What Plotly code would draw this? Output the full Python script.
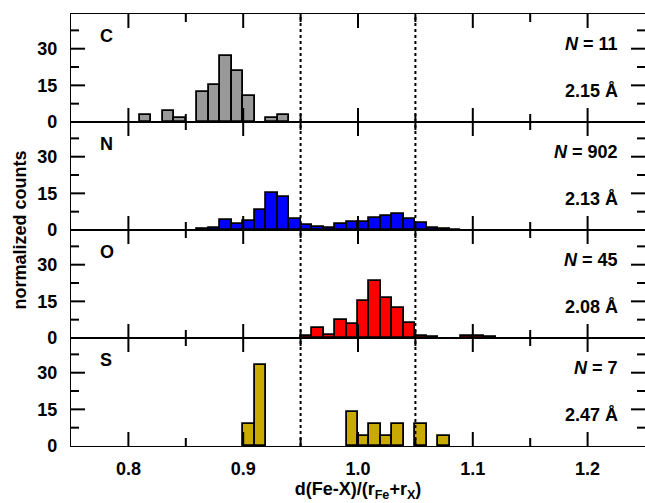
import plotly.graph_objects as go
from plotly.subplots import make_subplots

# bin left edges (width 0.01) and normalized counts
c_bins = [0.81, 0.83, 0.84, 0.86, 0.87, 0.88, 0.89, 0.90, 0.92, 0.93]
c_vals = [2.8, 4.6, 1.5, 12.3, 15.0, 27.1, 20.8, 10.5, 1.5, 2.8]

n_bins = [0.86, 0.87, 0.88, 0.89, 0.90, 0.91, 0.92, 0.93, 0.94, 0.95, 0.96, 0.97, 0.98, 0.99,
          1.00, 1.01, 1.02, 1.03, 1.04, 1.05, 1.06, 1.07, 1.08]
n_vals = [0.3, 0.8, 4.1, 2.5, 3.8, 8.2, 15.0, 13.6, 4.4, 2.0, 1.4, 0.8, 2.5, 3.1,
          3.3, 4.9, 5.7, 6.6, 4.4, 2.7, 0.8, 0.4, 0.2]

o_bins = [0.95, 0.96, 0.97, 0.98, 0.99, 1.00, 1.01, 1.02, 1.03, 1.04, 1.05, 1.06, 1.09, 1.10, 1.11]
o_vals = [0.7, 4.1, 1.1, 7.5, 5.6, 15.0, 23.2, 16.4, 12.4, 6.1, 0.9, 0.4, 0.9, 0.9, 0.3]

s_bins = [0.90, 0.91, 0.99, 1.00, 1.01, 1.02, 1.03, 1.05, 1.07]
s_vals = [9.2, 33.3, 13.9, 4.2, 9.2, 4.2, 9.2, 9.2, 4.2]

elements = ["C", "N", "O", "S"]
n_labels = ["11", "902", "45", "7"]
dist_labels = ["2.15 Å", "2.13 Å", "2.08 Å", "2.47 Å"]
colors = ["#999999", "#0000ff", "#ff0000", "#c8aa00"]
series = [(c_bins, c_vals), (n_bins, n_vals), (o_bins, o_vals), (s_bins, s_vals)]

x_major = [0.8, 0.9, 1.0, 1.1, 1.2]
x_minor = [0.85, 0.95, 1.05, 1.15]
y_major = [15, 30]
y_minor = [7.5, 22.5, 37.5]
ref_lines = [0.95, 1.05]

fig = make_subplots(rows=4, cols=1, shared_xaxes=True, vertical_spacing=0)

FONT = "Liberation Sans, Arial, sans-serif"
BOLD = dict(size=18, family=FONT, weight="bold", color="black")
TICK = dict(color="black", width=2)

PW, PH = 574.0, 108.0  # plot width, panel height in px
MAJ, MIN = 14.0, 8.0

for i, (bins, vals) in enumerate(series):
    r = i + 1
    sfx = "" if r == 1 else str(r)
    xr, yr = "x" + sfx, "y" + sfx
    xd, yd = xr + " domain", yr + " domain"
    fig.add_trace(go.Bar(x=bins, y=vals, width=0.01, offset=0,
                         marker=dict(color=colors[i], line=dict(color="black", width=1.8)),
                         showlegend=False), row=r, col=1)
    for xv in ref_lines:
        fig.add_shape(type="line", x0=xv, x1=xv, y0=0, y1=1, xref=xr, yref=yd,
                      line=dict(color="black", width=2, dash="dot"))
    # inward axis ticks on all four sides
    for ticks, ln in ((x_major, MAJ), (x_minor, MIN)):
        for xv in ticks:
            fig.add_shape(type="line", x0=xv, x1=xv, y0=0, y1=ln / PH, xref=xr, yref=yd, line=TICK)
            fig.add_shape(type="line", x0=xv, x1=xv, y0=1 - ln / PH, y1=1, xref=xr, yref=yd, line=TICK)
    for ticks, ln in ((y_major, MAJ), (y_minor, MIN)):
        for yv in ticks:
            fig.add_shape(type="line", x0=0, x1=ln / PW, y0=yv, y1=yv, xref=xd, yref=yr, line=TICK)
            fig.add_shape(type="line", x0=1 - ln / PW, x1=1, y0=yv, y1=yv, xref=xd, yref=yr, line=TICK)
    fig.add_annotation(text=elements[i], x=0.047, y=0.80, xref=xd, yref=yd,
                       xanchor="left", yanchor="middle", showarrow=False, font=BOLD)
    fig.add_annotation(text=f"<i>N</i> = {n_labels[i]}", x=0.956, y=0.725, xref=xd, yref=yd,
                       xanchor="right", yanchor="middle", showarrow=False, font=BOLD)
    fig.add_annotation(text=dist_labels[i], x=0.956, y=0.285, xref=xd, yref=yd,
                       xanchor="right", yanchor="middle", showarrow=False, font=BOLD)
    fig.update_yaxes(row=r, col=1, range=[0, 44.2], tickmode="linear", tick0=0, dtick=15,
                     ticks="", showline=True, linecolor="black", linewidth=1.2, mirror=True,
                     showgrid=False, zeroline=False, automargin=False,
                     ticklabelstandoff=9, tickfont=BOLD)
    fig.update_xaxes(row=r, col=1, range=[0.75, 1.25], tickmode="linear", tick0=0.8, dtick=0.1,
                     ticks="", showline=True, linecolor="black", linewidth=1.2, mirror=True,
                     showgrid=False, zeroline=False, showticklabels=(r == 4),
                     tickformat=".1f", automargin=False, ticklabelstandoff=6,
                     tickfont=BOLD)

fig.update_xaxes(row=4, col=1,
                 title=dict(text="d(Fe-X)/(r<sub>Fe</sub>+r<sub>X</sub>)", standoff=4, font=BOLD))

fig.add_annotation(text="normalized counts", x=-0.088, y=0.5, xref="paper", yref="paper",
                   textangle=-90, showarrow=False, xanchor="center", yanchor="middle",
                   font=BOLD)

fig.update_layout(width=645, height=503, margin=dict(l=71, r=0, t=14, b=57),
                  plot_bgcolor="white", paper_bgcolor="white", bargap=0,
                  font=dict(family=FONT, color="black"))

fig.write_html("out.html", post_script="document.body.style.margin='0px';",
               config={"displayModeBar": False})
